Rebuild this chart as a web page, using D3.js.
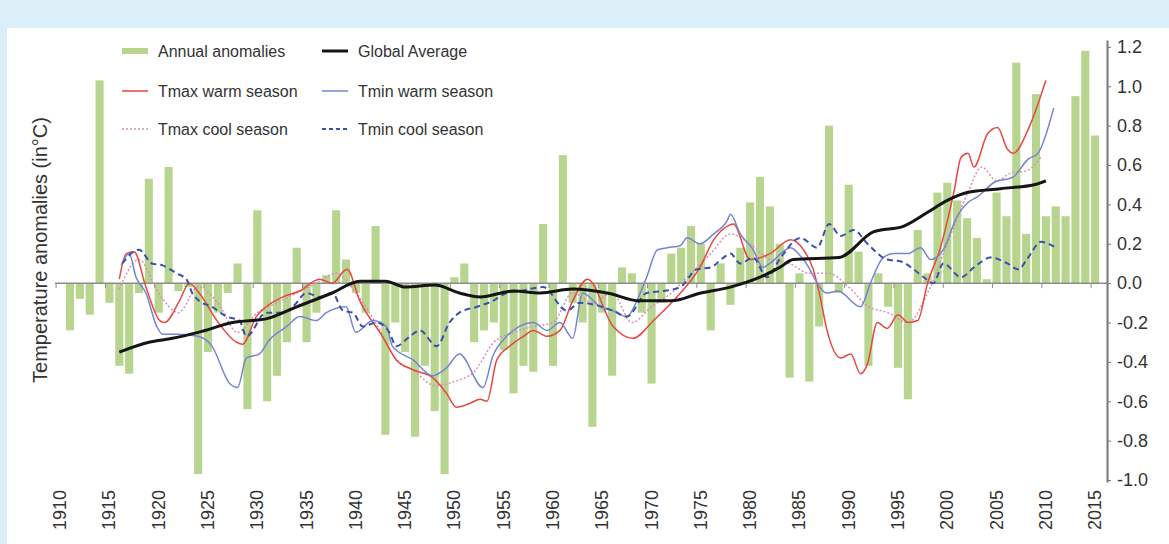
<!DOCTYPE html>
<html>
<head>
<meta charset="utf-8">
<script src="https://cdn.jsdelivr.net/npm/d3@7"></script>
<style>
  body { margin: 0; background: #dbeff8; }
  text { font-family: "Liberation Sans", Arial, sans-serif; }
</style>
</head>
<body>
<div id="chart"></div>
<script>
// annual anomaly bars, 1911-2015
const barYears = d3.range(1911, 2016);
const annual = [
  -0.24, -0.08, -0.16, 1.03, -0.10, -0.42, -0.46, -0.05, 0.53, -0.15,   // 1911-1920
   0.59, -0.04, -0.02, -0.97, -0.35, -0.15, -0.05, 0.10, -0.64, 0.37,   // 1921-1930
  -0.60, -0.47, -0.30, 0.18, -0.30, -0.15, 0.04, 0.37, 0.12, -0.05,     // 1931-1940
  -0.15, 0.29, -0.77, -0.20, -0.35, -0.78, -0.42, -0.65, -0.97, 0.03,   // 1941-1950
   0.10, -0.30, -0.24, -0.20, -0.34, -0.56, -0.42, -0.45, 0.30, -0.42,  // 1951-1960
   0.65, -0.10, -0.20, -0.73, -0.15, -0.47, 0.08, 0.05, -0.15, -0.51,   // 1961-1970
  -0.10, 0.15, 0.18, 0.29, 0.20, -0.24, 0.10, -0.11, 0.18, 0.41,        // 1971-1980
   0.54, 0.39, 0.20, -0.48, 0.05, -0.50, -0.22, 0.80, -0.05, 0.50,      // 1981-1990
   0.16, -0.42, 0.05, -0.12, -0.43, -0.59, 0.27, 0.05, 0.46, 0.51,      // 1991-2000
   0.42, 0.33, 0.23, 0.02, 0.46, 0.34, 1.12, 0.25, 0.96, 0.34,          // 2001-2010
   0.39, 0.34, 0.95, 1.18, 0.75                                         // 2011-2015
];

// smoothed series as [year, value]
const globalAvg = [
  [1916, -0.35], [1919, -0.30], [1921.4, -0.28], [1924, -0.25], [1927.5, -0.20],
  [1931, -0.18], [1934, -0.12], [1937.6, -0.05], [1940.4, 0.01], [1943, 0.01],
  [1945, -0.02], [1948, -0.01], [1950.5, -0.05], [1952.6, -0.07], [1956, -0.04],
  [1958.7, -0.05], [1962, -0.03], [1965.5, -0.05], [1968.8, -0.09], [1972, -0.09],
  [1975, -0.05], [1978, -0.02], [1981, 0.03], [1983, 0.08], [1984.4, 0.12],
  [1989, 0.13], [1992.5, 0.26], [1995.6, 0.29], [1998, 0.36], [2000, 0.42],
  [2002, 0.46], [2005.4, 0.48], [2008.8, 0.50], [2010, 0.52]
];
const tmaxWarm = [
  [1916, 0.02], [1916.7, 0.15], [1917.5, 0.16], [1918.7, -0.02], [1920.1, -0.19], [1920.6, -0.20],
  [1922.1, -0.09], [1923.1, 0.0], [1924.1, -0.05], [1925.9, -0.19], [1927.9, -0.30],
  [1928.5, -0.31], [1929.9, -0.17], [1930.9, -0.12], [1932.6, -0.07], [1934.3, -0.04],
  [1936.3, 0.02], [1937.6, 0.0], [1939.1, 0.07], [1940.4, -0.09], [1942.7, -0.27],
  [1944.1, -0.39], [1945.8, -0.44], [1947.8, -0.48], [1949.2, -0.56], [1950.2, -0.63],
  [1951.6, -0.61], [1952.6, -0.59], [1953.3, -0.60], [1954.3, -0.39], [1955.6, -0.32],
  [1957, -0.27], [1958, -0.24], [1959.4, -0.27], [1960.7, -0.24], [1962, -0.09],
  [1963.5, 0.02], [1966.1, -0.22], [1968.1, -0.28], [1970.2, -0.19], [1972.2, -0.09],
  [1974.9, 0.08], [1976.3, 0.22], [1977.7, 0.29], [1978.3, 0.30], [1980, 0.12],
  [1982, 0.15], [1984.1, 0.22], [1985.4, 0.17], [1986.4, 0.07], [1987.1, -0.07],
  [1987.8, -0.24], [1989.2, -0.38], [1990.2, -0.36], [1991.2, -0.46], [1991.9, -0.41],
  [1992.9, -0.20], [1993.9, -0.23], [1995, -0.16], [1996, -0.20], [1997, -0.19],
  [1998, 0.0], [1999.3, 0.18], [2000.7, 0.47], [2001.4, 0.64], [2002.1, 0.66],
  [2002.7, 0.59], [2004.1, 0.76], [2005.1, 0.79], [2006.1, 0.68], [2006.7, 0.66],
  [2008.2, 0.78], [2009.2, 0.91], [2010, 1.03]
];
const tminWarm = [
  [1916.2, 0.09], [1917, 0.15], [1917.7, 0.03], [1918.7, -0.05], [1919.8, -0.22],
  [1920.4, -0.26], [1922, -0.26], [1924, -0.27], [1925.4, -0.32], [1927.2, -0.51],
  [1928, -0.53], [1928.9, -0.38], [1930.2, -0.36], [1931.2, -0.29], [1933, -0.22],
  [1934.3, -0.17], [1936, -0.19], [1937, -0.15], [1939, -0.12], [1940, -0.25],
  [1941.7, -0.19], [1943.1, -0.22], [1943.7, -0.32], [1945.8, -0.39], [1947.8, -0.47],
  [1949.2, -0.43], [1950.5, -0.36], [1952.9, -0.53], [1953.9, -0.37], [1955.3, -0.27],
  [1956.6, -0.22], [1958, -0.20], [1959.4, -0.24], [1960.7, -0.20], [1962, -0.28],
  [1963, -0.05], [1964.8, -0.12], [1966.1, -0.14], [1967.5, -0.17], [1968.5, -0.09],
  [1969.5, 0.03], [1970.6, 0.17], [1971.6, 0.18], [1972.9, 0.19], [1973.6, 0.23],
  [1974.9, 0.20], [1976.3, 0.25], [1977.7, 0.32], [1978, 0.35], [1979, 0.25],
  [1980.3, 0.17], [1981.3, 0.08], [1982, 0.10], [1984.1, 0.18], [1985.4, 0.12],
  [1987.8, -0.05], [1988.9, -0.04], [1991.2, -0.12], [1992.2, 0.0], [1993.5, 0.13],
  [1994.6, 0.15], [1996, 0.15], [1997.3, 0.18], [1998.3, 0.12], [1999.6, 0.17],
  [2001, 0.34], [2002.1, 0.41], [2003.1, 0.44], [2004.7, 0.51], [2006.7, 0.54],
  [2008.2, 0.63], [2009.2, 0.66], [2010.8, 0.89]
];
const tmaxCool = [
  [1916, -0.03], [1918, 0.12], [1920, -0.05], [1922, -0.15], [1924, -0.02],
  [1926, -0.10], [1928, -0.25], [1930, -0.15], [1932, -0.10], [1934, -0.05],
  [1936, 0.0], [1938, 0.05], [1940, -0.05], [1942, -0.20], [1944, -0.38],
  [1946, -0.45], [1948, -0.52], [1950, -0.50], [1952, -0.45], [1954, -0.30],
  [1956, -0.25], [1958, -0.22], [1960, -0.20], [1962, -0.05], [1964, -0.10],
  [1966, -0.05], [1968, -0.20], [1970, -0.12], [1972, -0.05], [1974, 0.05],
  [1976, 0.15], [1978, 0.25], [1980, 0.20], [1982, 0.12], [1984, 0.10],
  [1986, 0.05], [1988, 0.05], [1990, -0.02], [1992, -0.12], [1994, -0.15],
  [1996, -0.20], [1998, -0.05], [2000, 0.20], [2002, 0.45], [2003.5, 0.59],
  [2005, 0.52], [2006.5, 0.56], [2008, 0.57], [2009.5, 0.64]
];
const tminCool = [
  [1916.3, 0.10], [1918, 0.17], [1919.3, 0.10], [1920.4, 0.09], [1921.8, 0.05],
  [1922.8, 0.02], [1923.4, -0.05], [1924.1, -0.09], [1925.4, -0.12], [1926.9, -0.17],
  [1928.2, -0.19], [1928.9, -0.27], [1930.9, -0.15], [1932.6, -0.15], [1933.6, -0.12],
  [1935, -0.05], [1936.3, -0.07], [1937.6, -0.05], [1938.7, -0.14], [1939.7, -0.15],
  [1940.7, -0.22], [1942.1, -0.20], [1943.4, -0.25], [1944.1, -0.32], [1945.5, -0.27],
  [1946.5, -0.24], [1948.2, -0.32], [1949.5, -0.20], [1950.5, -0.15], [1952.3, -0.12],
  [1953.9, -0.09], [1955.3, -0.05], [1956.6, -0.04], [1959, -0.02], [1961.4, -0.14],
  [1962.7, -0.10], [1966.1, -0.14], [1967.5, -0.17], [1969.5, -0.05], [1971.2, -0.04],
  [1972.9, -0.02], [1974.6, 0.07], [1976, 0.08], [1977.3, 0.13], [1978, 0.15],
  [1979, 0.10], [1980.3, 0.13], [1981.7, 0.03], [1983.1, 0.13], [1985.1, 0.23],
  [1986.8, 0.18], [1988, 0.30], [1989.2, 0.24], [1990.5, 0.27], [1991.9, 0.20],
  [1993.9, 0.12], [1995.3, 0.11], [1996.6, 0.07], [1997.6, 0.03], [1998.6, 0.0],
  [1999.6, 0.10], [2001.4, 0.03], [2002.7, 0.08], [2004.4, 0.13], [2006.1, 0.10],
  [2007.2, 0.07], [2008.2, 0.13], [2009.5, 0.21], [2011, 0.18]
];

const yTicks = [-1.0, -0.8, -0.6, -0.4, -0.2, 0.0, 0.2, 0.4, 0.6, 0.8, 1.0, 1.2];
const labelYears = d3.range(1910, 2016, 5);

const width = 1169, height = 544;

const svg = d3.select("#chart").append("svg")
  .attr("width", width)
  .attr("height", height);

svg.append("rect").attr("width", width).attr("height", height).attr("fill", "#dbeff8");
svg.append("rect").attr("x", 7).attr("y", 28).attr("width", width - 7).attr("height", height - 28).attr("fill", "#fff");

// scales
const x = d3.scaleBand()
  .domain(d3.range(1910, 2016))
  .range([56.1, 1099.2])
  .paddingInner(0.18);

const xc = d3.scaleLinear()
  .domain([1910, 2015])
  .range([x(1910) + x.bandwidth() / 2, x(2015) + x.bandwidth() / 2]);

const y = d3.scaleLinear()
  .domain([-1.01, 1.235])
  .range([482, 40]);

// bars
svg.append("g").selectAll("rect")
  .data(barYears.map((yr, i) => ({ yr, v: annual[i] })))
  .join("rect")
  .attr("x", d => x(d.yr))
  .attr("width", x.bandwidth())
  .attr("y", d => y(Math.max(0, d.v)))
  .attr("height", d => Math.abs(y(d.v) - y(0)))
  .attr("fill", "#b7d58e");

// zero line + ticks
svg.append("line")
  .attr("x1", 55).attr("x2", 1107)
  .attr("y1", y(0)).attr("y2", y(0))
  .attr("stroke", "#8c8c8c").attr("stroke-width", 1.5);

svg.append("g").selectAll("line")
  .data(labelYears)
  .join("line")
  .attr("x1", d => x(d)).attr("x2", d => x(d))
  .attr("y1", y(0)).attr("y2", y(0) + 5)
  .attr("stroke", "#8c8c8c").attr("stroke-width", 1);

// year labels
svg.append("g").selectAll("text")
  .data(labelYears)
  .join("text")
  .attr("transform", d => `translate(${xc(d)},490) rotate(-90)`)
  .attr("text-anchor", "end")
  .attr("dominant-baseline", "central")
  .attr("font-size", 18)
  .attr("fill", "#333")
  .text(d => d);

// right axis
const yAxis = svg.append("g")
  .attr("transform", "translate(1107,0)")
  .call(d3.axisRight(y)
    .tickValues(yTicks)
    .tickSize(4)
    .tickSizeOuter(0)
    .tickPadding(6)
    .tickFormat(d => d.toFixed(1)));

yAxis.select(".domain").attr("stroke", "#777").attr("stroke-width", 2);
yAxis.selectAll(".tick line").attr("stroke", "#777");
yAxis.selectAll(".tick text")
  .attr("font-size", 18)
  .attr("font-family", "Liberation Sans, Arial, sans-serif")
  .attr("fill", "#333");

// lines
const line = d3.line()
  .x(d => xc(d[0]))
  .y(d => y(d[1]))
  .curve(d3.curveMonotoneX);

const series = [
  { data: tmaxCool, color: "#d98fb6", width: 1.5, dash: "2,2" },
  { data: tmaxWarm, color: "#e8473f", width: 1.5, dash: null },
  { data: tminWarm, color: "#7584d2", width: 1.5, dash: null },
  { data: tminCool, color: "#3a50aa", width: 2, dash: "6,4" },
  { data: globalAvg, color: "#151515", width: 3, dash: null }
];

svg.append("g").selectAll("path")
  .data(series)
  .join("path")
  .attr("d", d => line(d.data))
  .attr("fill", "none")
  .attr("stroke", d => d.color)
  .attr("stroke-width", d => d.width)
  .attr("stroke-dasharray", d => d.dash);

// y title
svg.append("text")
  .attr("transform", "translate(40,250) rotate(-90)")
  .attr("text-anchor", "middle")
  .attr("dominant-baseline", "central")
  .attr("font-size", 20)
  .attr("fill", "#333")
  .text("Temperature anomalies (in°C)");

// legend
const legendItems = [
  { label: "Annual anomalies", kind: "bar", color: "#b7d58e", x: 122, y: 51 },
  { label: "Global Average", kind: "line", color: "#151515", width: 3, x: 322, y: 51 },
  { label: "Tmax warm season", kind: "line", color: "#e8473f", width: 1.5, x: 122, y: 91 },
  { label: "Tmin warm season", kind: "line", color: "#7584d2", width: 1.5, x: 322, y: 91 },
  { label: "Tmax cool season", kind: "line", color: "#d98fb6", width: 1.5, dash: "2,2", x: 122, y: 129 },
  { label: "Tmin cool season", kind: "line", color: "#3a50aa", width: 2, dash: "4,3", x: 322, y: 129 }
];

const lg = svg.append("g").selectAll("g")
  .data(legendItems)
  .join("g")
  .attr("transform", d => `translate(${d.x},${d.y})`);

lg.filter(d => d.kind === "bar").append("rect")
  .attr("x", 0).attr("y", -3).attr("width", 26).attr("height", 6)
  .attr("fill", d => d.color);

lg.filter(d => d.kind === "line").append("line")
  .attr("x1", 0).attr("x2", 26)
  .attr("stroke", d => d.color)
  .attr("stroke-width", d => d.width)
  .attr("stroke-dasharray", d => d.dash || null);

lg.append("text")
  .attr("x", 36)
  .attr("dominant-baseline", "central")
  .attr("font-size", 16)
  .attr("fill", "#333")
  .text(d => d.label);
</script>
</body>
</html>
